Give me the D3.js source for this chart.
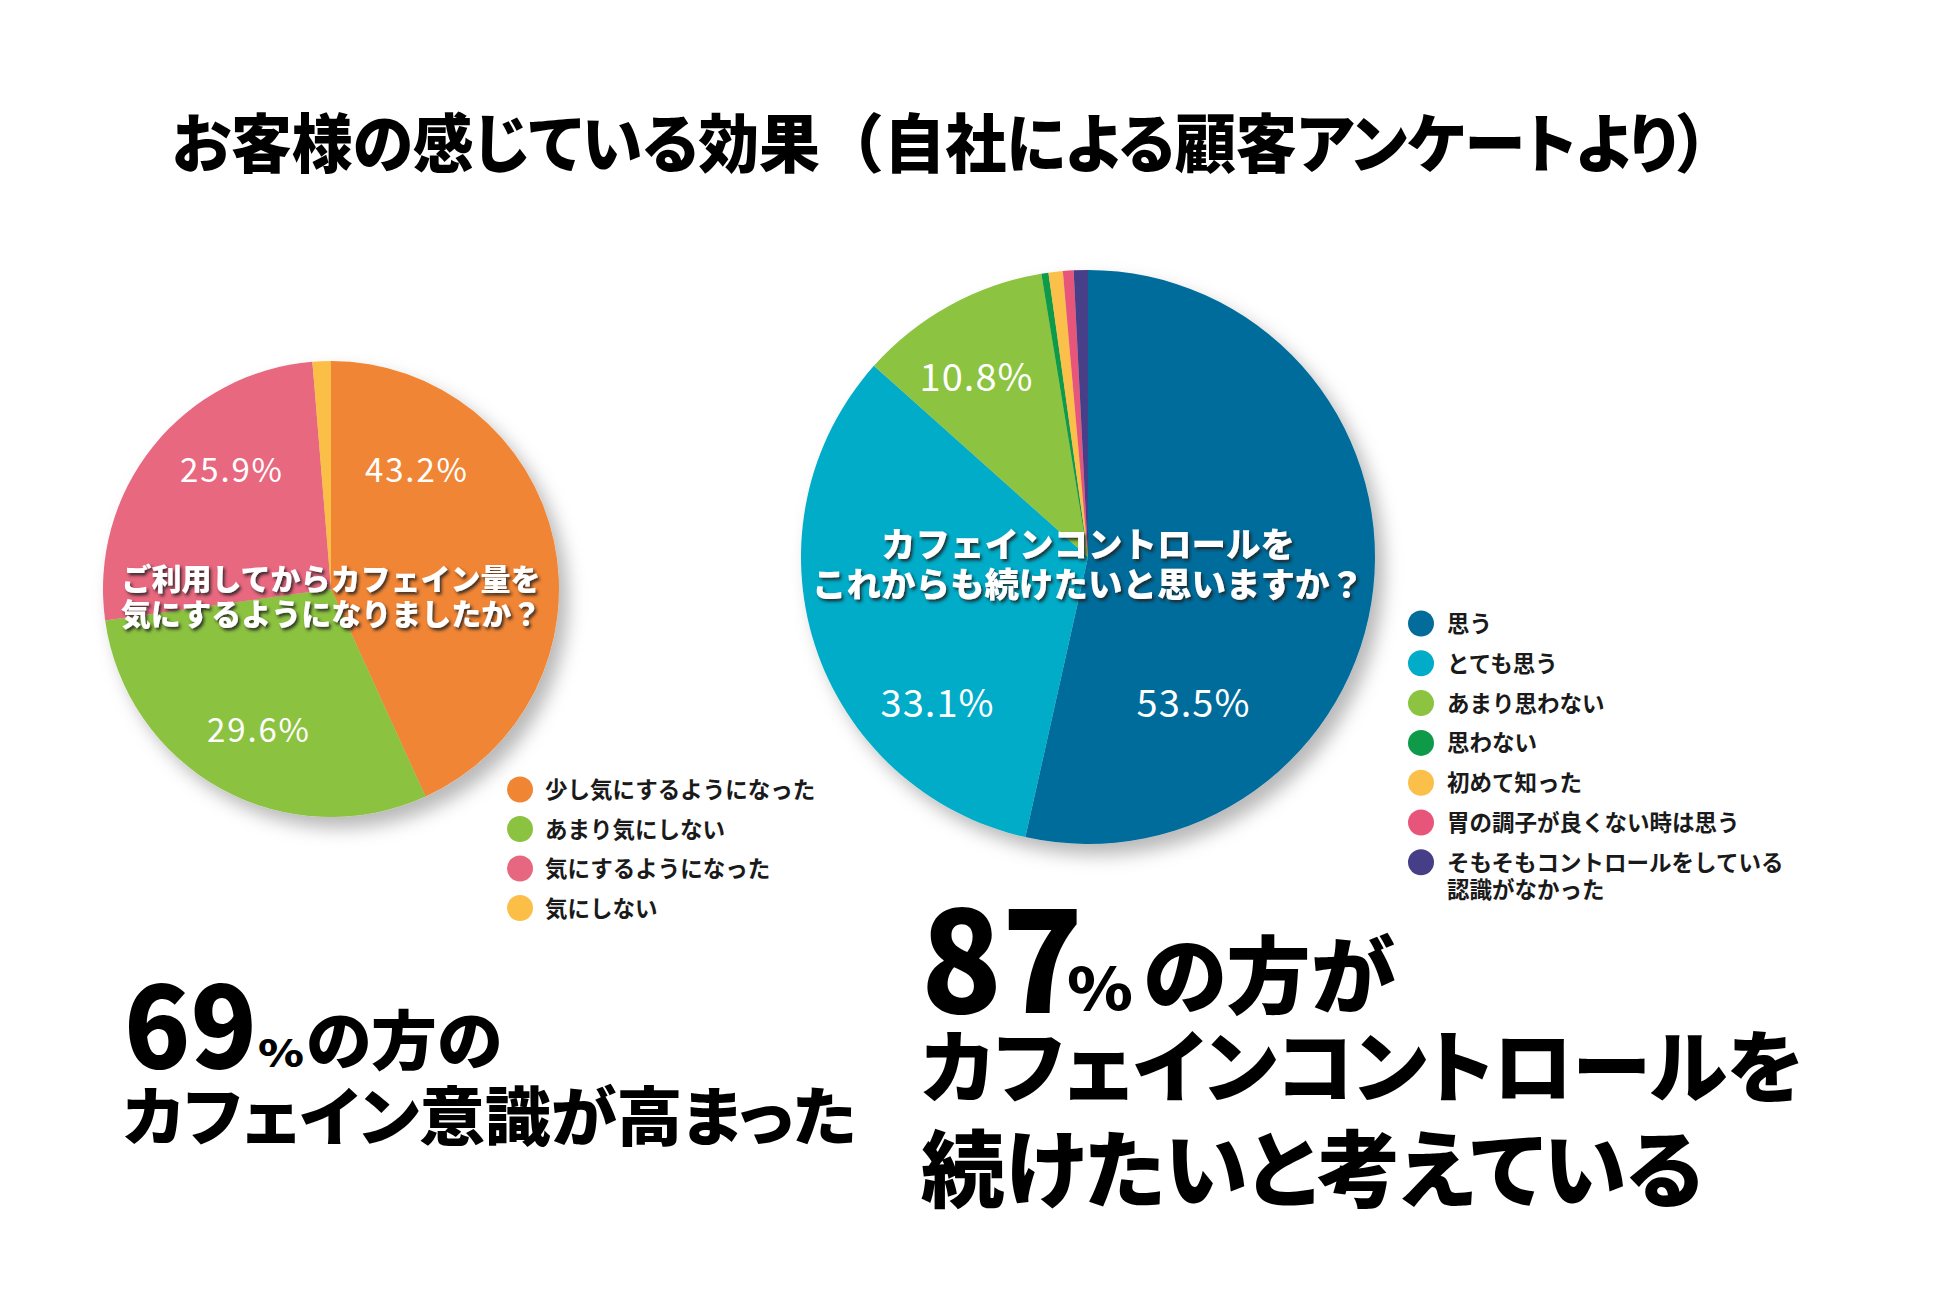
<!DOCTYPE html>
<html><head><meta charset="utf-8">
<script src="https://cdn.jsdelivr.net/npm/d3@7"></script>
<style>
html,body{margin:0;padding:0;background:#fff;}
svg{display:block;}
text{font-family:"Noto Sans CJK JP","Noto Sans",sans-serif;}
.palt{font-feature-settings:"palt" 1;}
.nopalt{font-feature-settings:normal;}
</style></head><body>
<svg id="chart" width="1937" height="1297"></svg>
<script>
// ---------- DATA ----------
const titleMain = "お客様の感じている効果";
const titleOpen = "（";
const titleSub = "自社による顧客アンケートより）";

const leftCategories = ["少し気にするようになった", "あまり気にしない", "気にするようになった", "気にしない"];
const leftValues = [43.2, 29.6, 25.9, 1.3];
const leftColors = ["#F08534", "#8BC240", "#E86780", "#FBBE46"];
const leftQuestion = ["ご利用してからカフェイン量を", "気にするようになりましたか？"];

const rightCategories = ["思う", "とても思う", "あまり思わない", "思わない", "初めて知った", "胃の調子が良くない時は思う", "そもそもコントロールをしている\n認識がなかった"];
const rightValues = [53.5, 33.1, 10.8, 0.4, 0.8, 0.6, 0.8];
const rightColors = ["#046C9B", "#00ACC8", "#8CC341", "#0E9A48", "#FBC04A", "#E8557A", "#463F88"];
const rightQuestion = ["カフェインコントロールを", "これからも続けたいと思いますか？"];

const leftHeadlineValue = 69;
const leftHeadlineLines = ["の方の", "カフェイン意識が高まった"];
const rightHeadlineValue = 87;
const rightHeadlineLines = ["の方が", "カフェインコントロールを", "続けたいと考えている"];

// ---------- LAYOUT ----------
const layout = {
  left: {cx: 331, cy: 589, r: 228, labelSize: 33, labelLen: 102,
         labelOffsets: [[85, -121], [-73, 139], [-100, -121], null],
         qSize: 30, qLines: [576.5, 611.5],
         legend: {cx: 520, y0: 788, dy: 39.5, r: 13, tx: 545, size: 22.5}},
  right: {cx: 1088, cy: 557, r: 287, labelSize: 38, labelLen: 113,
         labelOffsets: [[105, 143], [-151, 143], [-112, -183], null, null, null, null],
         qSize: 34.5, qLines: [542, 582],
         legend: {cx: 1421, y0: 622, dy: 39.8, r: 13, tx: 1447, size: 22.5, lineGap: 27}}
};

const svg = d3.select("#chart");
const defs = svg.append("defs");
defs.append("filter").attr("id", "pieShadow").attr("x", "-20%").attr("y", "-20%").attr("width", "150%").attr("height", "150%")
  .append("feDropShadow").attr("dx", 9).attr("dy", 11).attr("stdDeviation", 9)
  .attr("flood-color", "#000").attr("flood-opacity", 0.28);
defs.append("filter").attr("id", "txtShadow").attr("x", "-10%").attr("y", "-40%").attr("width", "120%").attr("height", "180%")
  .append("feDropShadow").attr("dx", 2).attr("dy", 2.5).attr("stdDeviation", 1.6)
  .attr("flood-color", "#222").attr("flood-opacity", 0.85);

svg.append("rect").attr("width", 1937).attr("height", 1297).attr("fill", "#fff");

// multi-part text block: one <text>, positioned tspans
function textBlock(parts) {
  const t = svg.append("text").attr("font-weight", 900).attr("fill", "#000");
  parts.forEach(p => {
    const s = t.append("tspan").attr("x", p.x).attr("y", p.y)
      .attr("font-size", p.size).text(p.txt)
      .attr("class", p.palt ? "palt" : "nopalt");
    if (p.len) s.attr("textLength", p.len).attr("lengthAdjust", "spacingAndGlyphs");
  });
  return t;
}

// Title
textBlock([
  {x: 172, y: 167, size: 64, len: 648, txt: titleMain, palt: true},
  {x: 820, y: 167, size: 64, len: 64, txt: titleOpen, palt: false},
  {x: 884, y: 167, size: 64, len: 824, txt: titleSub, palt: true}
]);

const fmt = v => d3.format(".1f")(v) + "%";

function drawPie(cfg, categories, values, colors, question) {
  const data = categories.map((c, i) => ({cat: c, value: values[i], color: colors[i], idx: i}));
  const pie = d3.pie().value(d => d.value).sort(null);
  const arc = d3.arc().innerRadius(0).outerRadius(cfg.r);
  const g = svg.append("g").attr("transform", `translate(${cfg.cx},${cfg.cy})`);
  const arcs = pie(data);
  g.append("g").attr("filter", "url(#pieShadow)")
    .selectAll("path").data(arcs).join("path")
    .attr("d", arc).attr("fill", d => d.data.color);

  // percentage labels
  g.selectAll("text.pct").data(arcs.filter(d => cfg.labelOffsets[d.data.idx]))
    .join("text").attr("class", "pct")
    .attr("x", d => cfg.labelOffsets[d.data.idx][0])
    .attr("y", d => cfg.labelOffsets[d.data.idx][1])
    .attr("text-anchor", "middle").attr("dominant-baseline", "central")
    .attr("font-size", cfg.labelSize).attr("font-weight", 400)
    .attr("textLength", cfg.labelLen)
    .attr("fill", "#fff").text(d => fmt(d.data.value));

  // question
  const qg = svg.append("g").attr("filter", "url(#txtShadow)");
  question.forEach((line, i) => {
    qg.append("text").attr("x", cfg.cx).attr("y", cfg.qLines[i])
      .attr("text-anchor", "middle").attr("dominant-baseline", "central")
      .attr("font-size", cfg.qSize).attr("font-weight", 900)
      .attr("fill", "#fff").text(line);
  });

  // legend
  const L = cfg.legend;
  const lg = svg.append("g");
  let y = L.y0;
  data.forEach(d => {
    const lines = d.cat.split("\n");
    lg.append("circle").attr("cx", L.cx).attr("cy", y + 1.5).attr("r", L.r).attr("fill", d.color);
    lines.forEach((ln, k) => {
      lg.append("text").attr("x", L.tx).attr("y", y + k * (L.lineGap || 0))
        .attr("dominant-baseline", "central")
        .attr("font-size", L.size).attr("font-weight", 700)
        .attr("fill", "#1a1a1a").text(ln);
    });
    y += L.dy;
  });
}

drawPie(layout.left, leftCategories, leftValues, leftColors, leftQuestion);
drawPie(layout.right, rightCategories, rightValues, rightColors, rightQuestion);

// Headlines
textBlock([
  {x: 124, y: 1068, size: 112, len: 133, txt: String(leftHeadlineValue)},
  {x: 258, y: 1067, size: 38, len: 46, txt: "%"},
  {x: 306, y: 1064, size: 64, len: 196, txt: leftHeadlineLines[0], palt: true},
  {x: 123, y: 1140, size: 64, len: 733, txt: leftHeadlineLines[1], palt: true}
]);
textBlock([
  {x: 921, y: 1013, size: 140, len: 162, txt: String(rightHeadlineValue)},
  {x: 1067, y: 1010, size: 58, len: 66, txt: "%"},
  {x: 1143, y: 1007, size: 84, len: 252, txt: rightHeadlineLines[0], palt: true},
  {x: 921, y: 1097, size: 79, len: 882, txt: rightHeadlineLines[1], palt: true},
  {x: 921, y: 1201, size: 84, len: 782, txt: rightHeadlineLines[2], palt: true}
]);
</script>
</body></html>
